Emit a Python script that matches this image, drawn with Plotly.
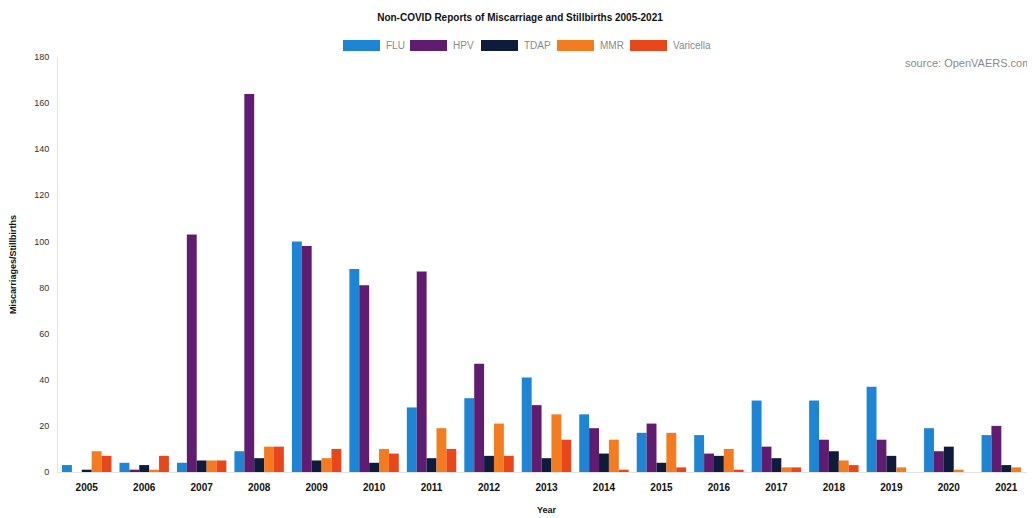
import plotly.graph_objects as go

years = [str(y) for y in range(2005, 2022)]
flu = [3, 4, 4, 9, 100, 88, 28, 32, 41, 25, 17, 16, 31, 31, 37, 19, 16]
hpv = [0, 1, 103, 164, 98, 81, 87, 47, 29, 19, 21, 8, 11, 14, 14, 9, 20]
tdap = [1, 3, 5, 6, 5, 4, 6, 7, 6, 8, 4, 7, 6, 9, 7, 11, 3]
mmr = [9, 1, 5, 11, 6, 10, 19, 21, 25, 14, 17, 10, 2, 5, 2, 1, 2]
varicella = [7, 7, 5, 11, 10, 8, 10, 7, 14, 1, 2, 1, 2, 3, 0, 0, 0]

names = ["FLU", "HPV", "TDAP", "MMR", "Varicella"]
colors = ["#1e84d4", "#5f1c70", "#0f1b3a", "#f47c20", "#e8471c"]
values = [flu, hpv, tdap, mmr, varicella]

# page body has an 8px margin, so the figure is sized to fill the rest of the window
OFF = 8
W, H = 1035 - OFF, 518 - OFF
ML, MR, MT, MB = 58 - OFF, 0, 57 - OFF, 46

fig = go.Figure()
for name, vals, color in zip(names, values, colors):
    fig.add_trace(go.Bar(x=years, y=vals, name=name, marker_color=color,
                         marker_line_width=0, showlegend=False))

pw = W - ML - MR
ph = H - MT - MB
def px2x(px):  # screen px -> paper x
    return (px - OFF - ML) / pw
def py2y(py):  # screen px -> paper y
    return (H - MB - (py - OFF)) / ph

# custom legend with wide swatches
sw_left = [343, 410, 481, 557, 630]
sw_w = 37
sw_top, sw_bot = 40, 51
for name, color, left in zip(names, colors, sw_left):
    fig.add_shape(type="rect", xref="paper", yref="paper",
                  x0=px2x(left), x1=px2x(left + sw_w),
                  y0=py2y(sw_bot), y1=py2y(sw_top),
                  fillcolor=color, line=dict(width=0))
    fig.add_annotation(text=name, xref="paper", yref="paper",
                       x=px2x(left + sw_w + 4), xanchor="left",
                       y=py2y((sw_top + sw_bot) / 2), yanchor="middle",
                       showarrow=False, font=dict(size=10, color="#8a8a8a"))

fig.update_layout(
    width=W, height=H,
    margin=dict(l=ML, r=MR, t=MT, b=MB),
    paper_bgcolor="white", plot_bgcolor="white",
    barmode="group", bargap=0.14, bargroupgap=0.0,
    font=dict(family="Liberation Sans, Arial, sans-serif", color="#222"),
    title=dict(text="<b>Non-COVID Reports of Miscarriage and Stillbirths 2005-2021</b>",
               x=(520 - OFF) / W, xanchor="center", xref="container",
               y=1 - (17 - OFF) / H, yanchor="middle", yref="container",
               font=dict(size=10, color="#111")),
    showlegend=False,
)
fig.update_xaxes(showgrid=False, showline=True, linecolor="#e3e3e3", linewidth=1,
                 tickfont=dict(size=10, color="#111", family="Liberation Sans, Arial"),
                 tickprefix="<b>", ticksuffix="</b>", ticklabelstandoff=6,
                 ticks="", title=dict(text="<b>Year</b>", font=dict(size=9, color="#111"),
                                      standoff=14))
fig.update_yaxes(range=[0, 180], dtick=20, showgrid=False, showline=True,
                 linecolor="#e3e3e3", linewidth=1, zeroline=False,
                 tickfont=dict(size=9, color="#333"), ticks="", ticklabelstandoff=6,
                 title=dict(text="<b>Miscarriages/Stillbirths</b>",
                            font=dict(size=9, color="#111"), standoff=20))
fig.add_annotation(text="source: OpenVAERS.com", xref="paper", yref="paper",
                   x=px2x(1033), xanchor="right", y=py2y(63), yanchor="middle",
                   showarrow=False, font=dict(size=11, color="#8a8a8a"))

fig.write_html("out.html")
